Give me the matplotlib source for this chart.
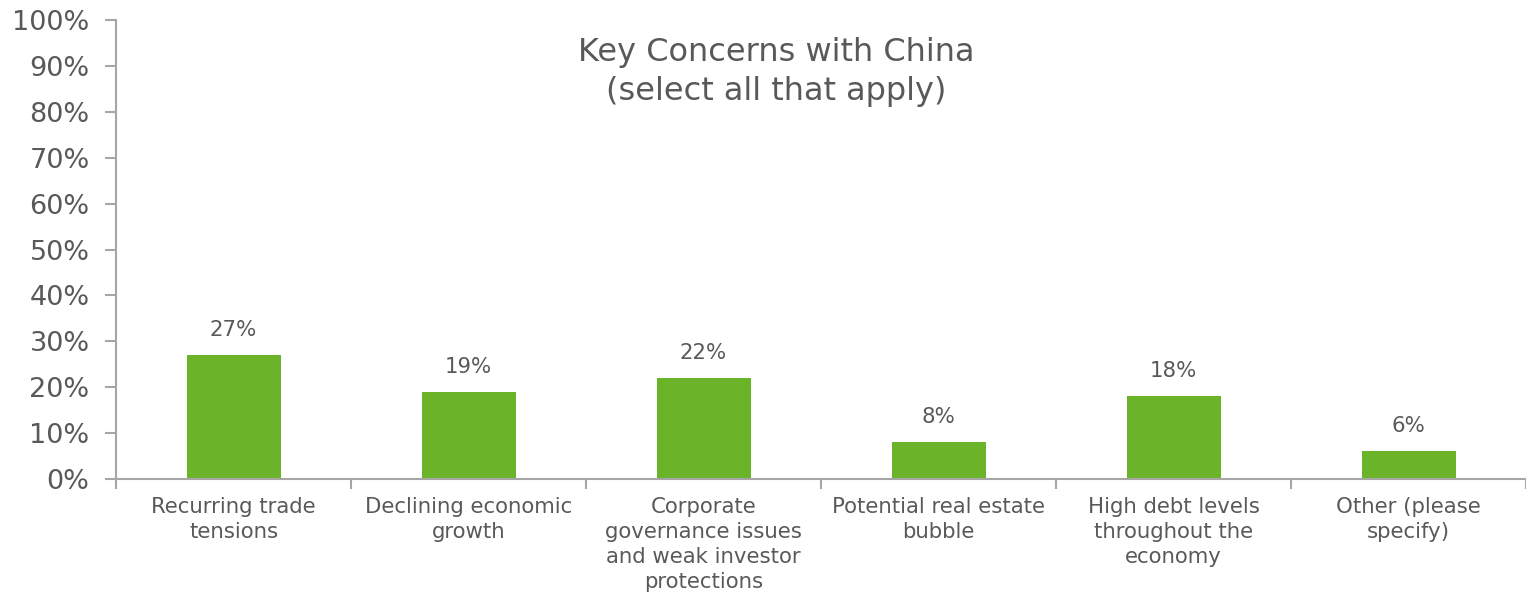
import matplotlib.pyplot as plt
import numpy as np

# Survey responses
categories = [
    "Recurring trade\ntensions",
    "Declining economic\ngrowth",
    "Corporate\ngovernance issues\nand weak investor\nprotections",
    "Potential real estate\nbubble",
    "High debt levels\nthroughout the\neconomy",
    "Other (please\nspecify)",
]
shares = [27, 19, 22, 8, 18, 6]
yticks = list(range(0, 101, 10))

text_color = "#595959"
axis_color = "#a6a6a6"
bar_color = "#6bb42a"

plt.rcParams['font.family'] = ['DejaVu Sans']

fig = plt.figure(figsize=(15.26, 5.96), dpi=100)
ax = fig.add_axes([116 / 1526, 1 - 479 / 596, 1 - 116 / 1526, (479 - 20) / 596])

x = np.arange(len(categories))
bars = ax.bar(x, shares, width=0.4, color=bar_color, zorder=2)

for rect, val in zip(bars, shares):
    ax.annotate(f"{val}%", (rect.get_x() + rect.get_width() / 2, rect.get_height()),
                xytext=(0, 11), textcoords="offset points",
                ha="center", va="bottom", fontsize=15.3, color=text_color)

ax.set_xlim(-0.5, len(categories) - 0.5)
ax.set_ylim(0, 100)
ax.set_yticks(yticks)
ax.set_yticklabels([f"{t}%" for t in yticks], fontsize=19.5, color=text_color)

# category labels centred under the bars, ticks on the boundaries
ax.set_xticks(x)
ax.set_xticklabels(categories, fontsize=15.3, color=text_color, linespacing=1.32)
ax.tick_params(axis="x", length=0, pad=13)
ax.set_xticks(np.arange(len(categories) + 1) - 0.5, minor=True)
ax.tick_params(axis="x", which="minor", length=7, width=1.5, color=axis_color)
ax.tick_params(axis="y", length=8, width=1.5, color=axis_color, pad=11)

for side in ["top", "right"]:
    ax.spines[side].set_visible(False)
for side in ["left", "bottom"]:
    ax.spines[side].set_color(axis_color)
    ax.spines[side].set_linewidth(1.5)

fig.text(776 / 1526, 1 - 72 / 596, "Key Concerns with China\n(select all that apply)",
         ha="center", va="center", fontsize=23, color=text_color, linespacing=1.35)

fig.savefig("out.png", dpi=100)
